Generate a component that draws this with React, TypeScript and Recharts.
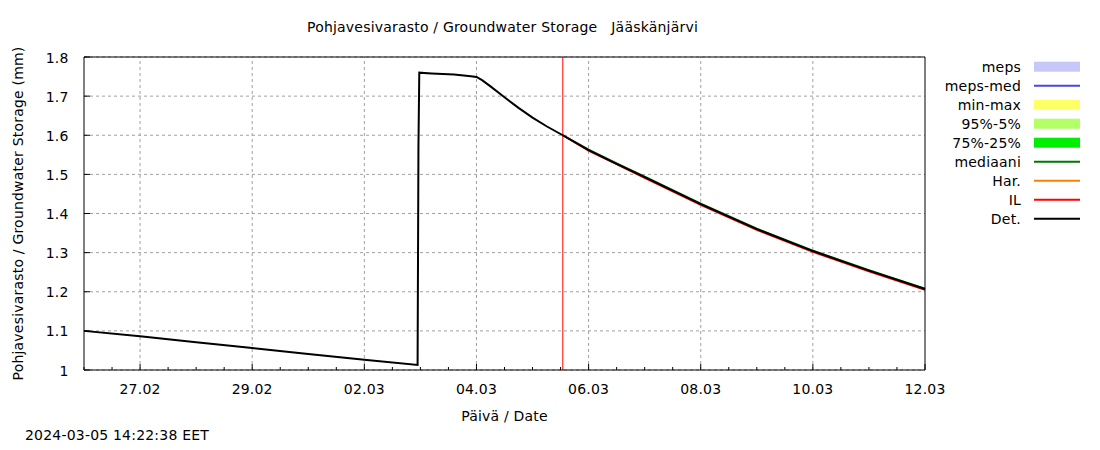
import React from 'react';
import { LineChart, Line, XAxis, YAxis, CartesianGrid, ReferenceLine } from 'recharts';

// days counted from 26.02.2024 00:00
const detDays = [0, 1, 2, 3, 4, 5, 5.95, 5.965, 5.98, 6.2, 6.6, 6.9, 7.0, 7.1, 7.25, 7.5, 7.75, 8.0, 8.25, 8.54, 9, 9.5, 10, 11, 12, 13, 14, 15];
const detValues = [1.1, 1.086, 1.071, 1.056, 1.041, 1.026, 1.013, 1.57, 1.76, 1.758, 1.755, 1.751, 1.749, 1.741, 1.725, 1.697, 1.67, 1.645, 1.623, 1.6, 1.562, 1.527, 1.493, 1.424, 1.36, 1.304, 1.254, 1.207];

const fcDays = [8.54, 9, 9.5, 10, 11, 12, 13, 14, 15];
const ilValues = [1.6, 1.561, 1.526, 1.491, 1.422, 1.358, 1.302, 1.252, 1.205];
const medValues = [1.6, 1.563, 1.528, 1.494, 1.425, 1.361, 1.305, 1.255, 1.208];

const nowDay = 8.54;

const majorDays = [1, 3, 5, 7, 9, 11, 13, 15];
const xLabels = ['27.02', '29.02', '02.03', '04.03', '06.03', '08.03', '10.03', '12.03'];
const minorDays = Array.from({ length: 31 }, (_, i) => i / 2);

const yTicks = [1, 1.1, 1.2, 1.3, 1.4, 1.5, 1.6, 1.7, 1.8];
const yLabels = ['1', '1.1', '1.2', '1.3', '1.4', '1.5', '1.6', '1.7', '1.8'];

const legendItems = [
  { name: 'meps', color: '#c8c8f8', band: true },
  { name: 'meps-med', color: '#4848e0', band: false },
  { name: 'min-max', color: '#ffff66', band: true },
  { name: '95%-5%', color: '#b3ff66', band: true },
  { name: '75%-25%', color: '#00ee00', band: true },
  { name: 'mediaani', color: '#007700', band: false },
  { name: 'Har.', color: '#ff8000', band: false },
  { name: 'IL', color: '#ff0000', band: false },
  { name: 'Det.', color: '#000000', band: false },
];

const detData = detDays.map((d, i) => ({ day: d, value: detValues[i] }));
const ilData = fcDays.map((d, i) => ({ day: d, value: ilValues[i] }));
const medData = fcDays.map((d, i) => ({ day: d, value: medValues[i] }));

const BottomTick = ({ x, y, payload }: any) => {
  const idx = majorDays.indexOf(payload.value);
  return (
    <g>
      <line x1={x} x2={x} y1={y} y2={y - (idx >= 0 ? 6 : 3)} stroke="#000" />
      {idx >= 0 && (
        <text x={x} y={y + 24} textAnchor="middle" fontSize={14} fill="#000">
          {xLabels[idx]}
        </text>
      )}
    </g>
  );
};

const TopTick = ({ x, y, payload }: any) => {
  const major = majorDays.includes(payload.value);
  return <line x1={x} x2={x} y1={y} y2={y + (major ? 6 : 3)} stroke="#000" />;
};

const LeftTick = ({ x, y, payload }: any) => {
  const idx = yTicks.indexOf(payload.value);
  return (
    <g>
      <line x1={x} x2={x + 6} y1={y} y2={y} stroke="#000" />
      <text x={x - 15.5} y={y + 5.5} textAnchor="end" fontSize={14} fill="#000">
        {yLabels[idx]}
      </text>
    </g>
  );
};

const RightTick = ({ x, y }: any) => <line x1={x - 6} x2={x} y1={y} y2={y} stroke="#000" />;

const App: React.FC = () => (
  <div
    style={{
      position: 'absolute',
      left: 0,
      top: 0,
      width: 1100,
      height: 450,
      background: '#fff',
      fontFamily: '"DejaVu Sans"',
      letterSpacing: '0.2px',
    }}
  >
    <LineChart width={1100} height={450} margin={{ top: 56, right: 174, bottom: 28, left: 5 }}>
      <CartesianGrid xAxisId="bottom" yAxisId="left" vertical={false} stroke="#a0a0a0" strokeDasharray="3 3" />
      <XAxis
        xAxisId="bottom"
        dataKey="day"
        type="number"
        domain={[0, 15]}
        ticks={minorDays}
        interval={0}
        height={52}
        tickSize={0}
        tickMargin={0}
        tickLine={false}
        tick={<BottomTick />}
        axisLine={{ stroke: '#000' }}
        label={{ value: 'Päivä / Date', position: 'insideBottom', offset: 1, fontSize: 14, fill: '#000' }}
      />
      <XAxis
        xAxisId="top"
        orientation="top"
        dataKey="day"
        type="number"
        domain={[0, 15]}
        ticks={minorDays}
        interval={0}
        height={1}
        tickSize={0}
        tickMargin={0}
        tickLine={false}
        tick={<TopTick />}
        axisLine={{ stroke: '#000' }}
      />
      <YAxis
        yAxisId="left"
        type="number"
        domain={[1, 1.8]}
        ticks={yTicks}
        interval={0}
        width={79}
        tickSize={0}
        tickMargin={0}
        tickLine={false}
        tick={<LeftTick />}
        axisLine={{ stroke: '#000' }}
        label={{
          value: 'Pohjavesivarasto / Groundwater Storage (mm)',
          angle: -90,
          position: 'insideLeft',
          offset: 13,
          fontSize: 14,
          fill: '#000',
          style: { textAnchor: 'middle' },
        }}
      />
      <YAxis
        yAxisId="right"
        orientation="right"
        type="number"
        domain={[1, 1.8]}
        ticks={yTicks}
        interval={0}
        width={1}
        tickSize={0}
        tickMargin={0}
        tickLine={false}
        tick={<RightTick />}
        axisLine={{ stroke: '#000' }}
      />
      {majorDays.slice(0, -1).map((d) => (
        <ReferenceLine key={d} xAxisId="bottom" yAxisId="left" x={d} stroke="#a0a0a0" strokeDasharray="3 3" />
      ))}
      <ReferenceLine xAxisId="bottom" yAxisId="left" x={nowDay} stroke="#ff0000" strokeWidth={1} />
      <Line xAxisId="bottom" yAxisId="left" data={medData} dataKey="value" type="linear" stroke="#007700" strokeWidth={2} dot={false} isAnimationActive={false} />
      <Line xAxisId="bottom" yAxisId="left" data={ilData} dataKey="value" type="linear" stroke="#ff0000" strokeWidth={2} dot={false} isAnimationActive={false} />
      <Line xAxisId="bottom" yAxisId="left" data={detData} dataKey="value" type="linear" stroke="#000000" strokeWidth={2} dot={false} isAnimationActive={false} />
    </LineChart>
    <svg width={1100} height={450} style={{ position: 'absolute', left: 0, top: 0, pointerEvents: 'none' }}>
      <text x={502.5} y={32} textAnchor="middle" fontSize={14} fill="#000" style={{ whiteSpace: 'pre' }}>
        {'Pohjavesivarasto / Groundwater Storage   Jääskänjärvi'}
      </text>
      <text x={25} y={440} fontSize={14} fill="#000">
        2024-03-05 14:22:38 EET
      </text>
      {legendItems.map((it, i) => {
        const cy = 66.7 + i * 19;
        return (
          <g key={it.name}>
            <text x={1021} y={cy + 5} textAnchor="end" fontSize={14} fill="#000">
              {it.name}
            </text>
            {it.band ? (
              <rect x={1034} y={cy - 5} width={46} height={10} fill={it.color} />
            ) : (
              <line x1={1034} x2={1080} y1={cy} y2={cy} stroke={it.color} strokeWidth={2} />
            )}
          </g>
        );
      })}
    </svg>
  </div>
);

export default App;
